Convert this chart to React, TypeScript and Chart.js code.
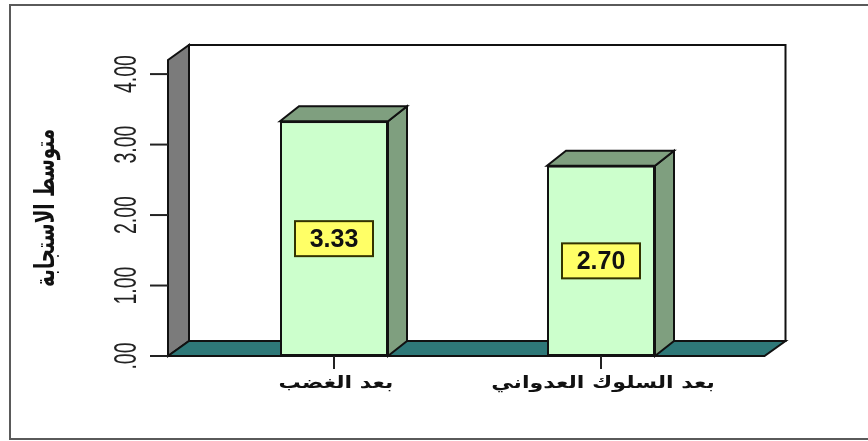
import React, { useEffect, useRef } from 'react';
import { Chart, registerables } from 'chart.js';

Chart.register(...registerables);

const categories = ['بعد الغضب', 'بعد السلوك العدواني'];
const meanValues = [3.33, 2.7];
const tickValues = [0, 1, 2, 3, 4];
const tickLabels = ['.00', '1.00', '2.00', '3.00', '4.00'];
const axisTitle = 'متوسط الاستجابة';
const yMax = 4.2;

const DX = 21;
const DY = 15;

function poly(ctx: CanvasRenderingContext2D, pts: number[][], fill: string, stroke: string, lw: number) {
  ctx.beginPath();
  ctx.moveTo(pts[0][0], pts[0][1]);
  for (let i = 1; i < pts.length; i++) ctx.lineTo(pts[i][0], pts[i][1]);
  ctx.closePath();
  ctx.fillStyle = fill;
  ctx.fill();
  ctx.lineWidth = lw;
  ctx.strokeStyle = stroke;
  ctx.lineJoin = 'miter';
  ctx.stroke();
}

function scaledText(
  ctx: CanvasRenderingContext2D,
  text: string,
  cx: number,
  cy: number,
  angle: number,
  font: string,
  sx: number,
  color: string,
  rtl: boolean
) {
  ctx.save();
  ctx.translate(cx, cy);
  ctx.rotate(angle);
  ctx.scale(sx, 1);
  ctx.font = font;
  ctx.direction = rtl ? 'rtl' : 'ltr';
  ctx.textAlign = 'center';
  ctx.textBaseline = 'middle';
  ctx.fillStyle = color;
  ctx.fillText(text, 0, 0);
  ctx.restore();
}

const frame3d = {
  id: 'frame3d',
  beforeDatasetsDraw(chart: any) {
    const ctx: CanvasRenderingContext2D = chart.ctx;
    const area = chart.chartArea;
    const ys = chart.scales.y;
    const xs = chart.scales.x;
    const L = area.left - 32.5;
    const R = area.right + 30;
    const B = ys.getPixelForValue(0);
    const T = ys.getPixelForValue(yMax);
    ctx.save();
    // outer border
    ctx.strokeStyle = '#5a5a5a';
    ctx.lineWidth = 2;
    ctx.beginPath();
    ctx.moveTo(900, 5);
    ctx.lineTo(10, 5);
    ctx.lineTo(10, 439);
    ctx.lineTo(900, 439);
    ctx.stroke();
    // back wall
    poly(ctx, [[L + DX, T - DY], [R + DX, T - DY], [R + DX, B - DY], [L + DX, B - DY]], '#ffffff', '#111111', 2);
    // left wall
    poly(ctx, [[L, T], [L + DX, T - DY], [L + DX, B - DY], [L, B]], '#7b7b7b', '#111111', 2);
    // floor
    poly(ctx, [[L, B], [L + DX, B - DY], [R + DX, B - DY], [R, B]], '#2e7878', '#111111', 2);
    // y ticks
    ctx.strokeStyle = '#222';
    ctx.lineWidth = 2;
    tickValues.forEach((v, i) => {
      const py = ys.getPixelForValue(v);
      ctx.beginPath();
      ctx.moveTo(L - 18, py);
      ctx.lineTo(L, py);
      ctx.stroke();
      scaledText(ctx, tickLabels[i], 127, py, -Math.PI / 2, '31px "Liberation Sans"', 0.63, '#222', false);
    });
    // y title
    scaledText(ctx, axisTitle, 47, (T + B) / 2, -Math.PI / 2, 'bold 27px "DejaVu Sans"', 0.68, '#111', true);
    // x ticks and labels
    categories.forEach((c, i) => {
      const px = xs.getPixelForValue(i);
      ctx.strokeStyle = '#222';
      ctx.lineWidth = 2;
      ctx.beginPath();
      ctx.moveTo(px, B);
      ctx.lineTo(px, B + 13);
      ctx.stroke();
      scaledText(ctx, c, px + 2, 384, 0, 'bold 17px "DejaVu Sans"', 1.3, '#111', true);
    });
    ctx.restore();
  },
  afterDatasetsDraw(chart: any) {
    const ctx: CanvasRenderingContext2D = chart.ctx;
    const meta = chart.getDatasetMeta(0);
    ctx.save();
    meta.data.forEach((bar: any, i: number) => {
      const { x, y, base, width } = bar.getProps(['x', 'y', 'base', 'width'], true);
      const l = x - width / 2;
      const r = x + width / 2;
      poly(ctx, [[r, y], [r + DX - 2, y - DY], [r + DX - 2, base - DY], [r, base]], '#7f9f7f', '#111111', 2);
      poly(ctx, [[l, y], [l + DX - 2, y - DY], [r + DX - 2, y - DY], [r, y]], '#7f9f7f', '#111111', 2);
      // value label
      const cy = (y + base) / 2;
      const bw = 78;
      const bh = 35;
      ctx.fillStyle = '#ffff66';
      ctx.fillRect(x - bw / 2, cy - bh / 2, bw, bh);
      ctx.strokeStyle = '#333300';
      ctx.lineWidth = 2;
      ctx.strokeRect(x - bw / 2, cy - bh / 2, bw, bh);
      ctx.font = 'bold 25px "Liberation Sans"';
      ctx.textAlign = 'center';
      ctx.textBaseline = 'middle';
      ctx.fillStyle = '#111';
      ctx.fillText(meanValues[i].toFixed(2), x, cy + 1);
    });
    ctx.restore();
  },
};

export default function App() {
  const ref = useRef<HTMLCanvasElement>(null);
  useEffect(() => {
    document.body.style.margin = '0';
    const canvas = ref.current!;
    const chart = new Chart(canvas, {
      type: 'bar',
      data: {
        labels: categories,
        datasets: [
          {
            data: meanValues,
            backgroundColor: '#ccffcc',
            borderColor: '#111111',
            borderWidth: 2,
            borderSkipped: false,
            barPercentage: 0.4045,
            categoryPercentage: 1,
          },
        ],
      },
      options: {
        animation: false,
        responsive: false,
        maintainAspectRatio: false,
        devicePixelRatio: 1,
        layout: { padding: { left: 200.5, right: 133.5, top: 60, bottom: 85 } },
        scales: {
          x: { display: false, offset: true },
          y: { display: false, min: 0, max: yMax },
        },
        plugins: { legend: { display: false }, tooltip: { enabled: false } },
      },
      plugins: [frame3d],
    });
    return () => chart.destroy();
  }, []);
  return (
    <div style={{ width: 868, height: 441, background: '#fff' }}>
      <canvas ref={ref} width={868} height={441} style={{ display: 'block' }} />
    </div>
  );
}
